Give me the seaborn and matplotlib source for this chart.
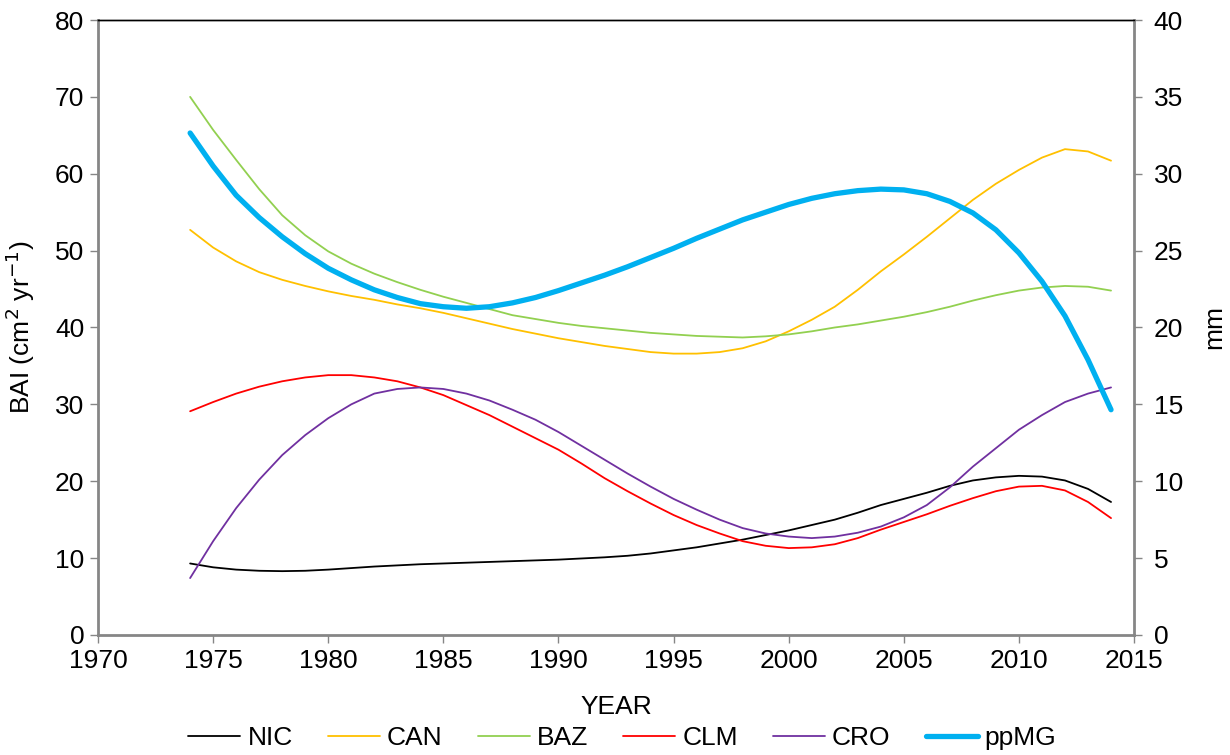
import numpy as np
import pandas as pd
import matplotlib
matplotlib.use("Agg")
import matplotlib.pyplot as plt
from matplotlib.lines import Line2D
import seaborn as sns

years = list(range(1974, 2015))

nic = [9.3, 8.8, 8.5, 8.35, 8.3, 8.35, 8.5, 8.7, 8.9, 9.05, 9.2,
       9.3, 9.4, 9.5, 9.6, 9.7, 9.8, 9.95, 10.1, 10.3, 10.6,
       11.0, 11.4, 11.9, 12.4, 13.0, 13.6, 14.3, 15.0, 15.9, 16.9,
       17.7, 18.5, 19.4, 20.1, 20.5, 20.7, 20.6, 20.1, 19.0, 17.3]
can = [52.7, 50.4, 48.6, 47.2, 46.2, 45.4, 44.7, 44.1, 43.6, 43.0, 42.5,
       41.9, 41.2, 40.5, 39.8, 39.2, 38.6, 38.1, 37.6, 37.2, 36.8,
       36.6, 36.6, 36.8, 37.3, 38.2, 39.5, 41.0, 42.7, 44.9, 47.3,
       49.5, 51.8, 54.2, 56.6, 58.7, 60.5, 62.1, 63.2, 62.9, 61.7]
baz = [70.0, 65.7, 61.8, 58.0, 54.6, 52.0, 49.9, 48.3, 47.0, 45.9, 44.9,
       44.0, 43.2, 42.4, 41.6, 41.1, 40.6, 40.2, 39.9, 39.6, 39.3,
       39.1, 38.9, 38.8, 38.7, 38.85, 39.1, 39.5, 40.0, 40.4, 40.9,
       41.4, 42.0, 42.7, 43.5, 44.2, 44.8, 45.2, 45.4, 45.3, 44.8]
clm = [29.1, 30.3, 31.4, 32.3, 33.0, 33.5, 33.8, 33.8, 33.5, 33.0, 32.2,
       31.2, 29.9, 28.6, 27.1, 25.6, 24.1, 22.3, 20.4, 18.7, 17.1,
       15.6, 14.3, 13.2, 12.2, 11.6, 11.3, 11.4, 11.8, 12.6, 13.7,
       14.7, 15.7, 16.8, 17.8, 18.7, 19.3, 19.4, 18.8, 17.3, 15.2]
cro = [7.4, 12.2, 16.5, 20.2, 23.4, 26.0, 28.2, 30.0, 31.4, 32.0, 32.2,
       32.0, 31.4, 30.5, 29.3, 28.0, 26.4, 24.6, 22.8, 21.0, 19.3,
       17.7, 16.3, 15.0, 13.9, 13.2, 12.8, 12.6, 12.8, 13.3, 14.1,
       15.3, 16.9, 19.2, 21.9, 24.3, 26.7, 28.6, 30.3, 31.4, 32.2]
ppmg = [32.65, 30.5, 28.6, 27.15, 25.9, 24.8, 23.85, 23.1, 22.45, 21.95, 21.55,
        21.35, 21.25, 21.35, 21.6, 21.95, 22.4, 22.9, 23.4, 23.95, 24.55,
        25.15, 25.8, 26.4, 27.0, 27.5, 28.0, 28.4, 28.7, 28.9, 29.0,
        28.95, 28.7, 28.2, 27.45, 26.35, 24.85, 23.0, 20.75, 17.9, 14.65]

series_names = ["NIC", "CAN", "BAZ", "CLM", "CRO"]
series_values = [nic, can, baz, clm, cro]
colors = ["#000000", "#FFC000", "#92D050", "#FF0000", "#7030A0"]
pp_color = "#00B0F0"

x_ticks = list(range(1970, 2016, 5))
y_ticks = list(range(0, 81, 10))
y2_ticks = list(range(0, 41, 5))

rows = []
for name, vals in zip(series_names, series_values):
    for yr, v in zip(years, vals):
        rows.append({"YEAR": yr, "BAI": v, "Site": name})
df = pd.DataFrame(rows)
df_pp = pd.DataFrame({"YEAR": years, "mm": ppmg})

sns.set_theme(style="white")
plt.rcParams['font.family'] = ['Liberation Sans', 'DejaVu Sans']
plt.rcParams['text.color'] = 'black'
plt.rcParams['axes.labelcolor'] = 'black'
plt.rcParams['xtick.labelcolor'] = 'black'
plt.rcParams['ytick.labelcolor'] = 'black'

FS = 19
fig = plt.figure(figsize=(12.3, 7.55), dpi=100)
ax = fig.add_axes([0.0797, 0.159, 0.8423, 0.8145])
ax2 = ax.twinx()

sns.lineplot(data=df, x="YEAR", y="BAI", hue="Site", hue_order=series_names,
             palette=colors, linewidth=1.3, ax=ax, legend=False)
sns.lineplot(data=df_pp, x="YEAR", y="mm", color=pp_color, linewidth=3.8,
             ax=ax2, legend=False, solid_capstyle="round")

ax.set_xlim(1970, 2015)
ax.set_ylim(0, 80)
ax2.set_ylim(0, 40)
ax.set_xticks(x_ticks)
ax.set_yticks(y_ticks)
ax2.set_yticks(y2_ticks)

gray = "#868686"
for a in (ax, ax2):
    for s in ("left", "right", "bottom"):
        a.spines[s].set_color(gray)
        a.spines[s].set_linewidth(2.0)
    a.spines["top"].set_color("black")
    a.spines["top"].set_linewidth(1.0)
ax.spines["right"].set_visible(False)
ax2.spines["left"].set_visible(False)
ax2.spines["bottom"].set_visible(False)

ax.tick_params(axis="both", which="major", direction="out", length=6,
               width=1.0, color=gray, labelsize=FS, labelcolor="black",
               left=True, bottom=True)
ax2.tick_params(axis="y", direction="out", length=6, width=1.0, color=gray,
                labelsize=FS, labelcolor="black", right=True)
ax.tick_params(axis="x", pad=4)
ax.tick_params(axis="y", pad=4)
ax2.tick_params(axis="y", pad=8)

ax.set_xlabel("YEAR", fontsize=FS, color="black")
ax.set_ylabel("BAI (cm$^{2}$ yr$^{-1}$)", fontsize=FS, color="black")
ax2.set_ylabel("mm", fontsize=FS, color="black")
ax.xaxis.set_label_coords(0.5, -0.0976)
ax.yaxis.set_label_coords(-0.0589, 0.5)
ax2.yaxis.set_label_coords(1.066, 0.5)
ax.grid(False)
ax2.grid(False)

handles = [Line2D([0], [0], color=c, lw=1.3) for c in colors]
handles.append(Line2D([0], [0], color=pp_color, lw=3.8, solid_capstyle="round"))
labels = series_names + ["ppMG"]
leg = fig.legend(handles, labels, loc="center", ncol=6, frameon=False,
                 fontsize=FS, bbox_to_anchor=(0.506, 0.0225), handlelength=1.97,
                 columnspacing=1.33, handletextpad=0.27, borderaxespad=0,
                 labelcolor="black")

fig.savefig("out.png", dpi=100)
